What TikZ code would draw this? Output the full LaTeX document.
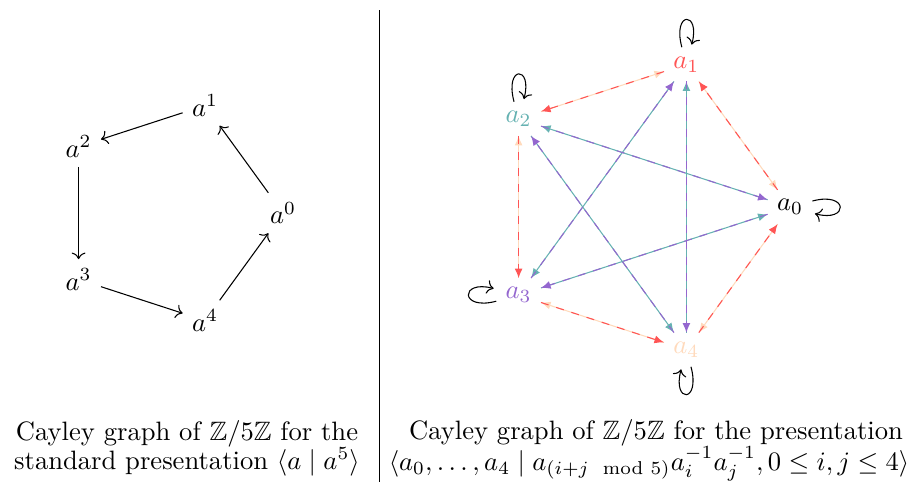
\documentclass[tikz,border=0pt]{standalone}
\usepackage{amsmath,amssymb}
\usetikzlibrary{arrows.meta}
\definecolor{cR}{RGB}{255,85,85}
\definecolor{cT}{RGB}{102,178,178}
\definecolor{cP}{RGB}{148,103,207}
\definecolor{cK}{RGB}{255,218,188}
\begin{document}
\begin{tikzpicture}[x=0.376pt,y=-0.376pt,
  solidedge/.style={-{Latex[length=3.6pt,width=3pt]}},
  dashededge/.style={dashed,-{Latex[length=3.6pt,width=3pt]}},
  loopedge/.style={->,black,min distance=5.5mm},
  captext/.style={anchor=base,inner sep=0pt}]
\useasboundingbox (0,0) rectangle (918,482);
% left graph
\node (L0) at (283,213) {$a^0$};
\node (L1) at (205,105.5) {$a^1$};
\node (L2) at (78.6,146.6) {$a^2$};
\node (L3) at (78.6,279.4) {$a^3$};
\node (L4) at (205,320.5) {$a^4$};
\draw[->] (L0) -- (L1);
\draw[->] (L1) -- (L2);
\draw[->] (L2) -- (L3);
\draw[->] (L3) -- (L4);
\draw[->] (L4) -- (L0);
% separator
\coordinate (sepT) at (379,10);
\coordinate (sepB) at (379,482);
\draw[line width=0.35pt] (sepT) -- (sepB);
% right graph
\node (R0) at (790,207) {$a_0$};
\node[text=cR] (R1) at (686.4,64.3) {$a_1$};
\node[text=cT] (R2) at (518.6,118.8) {$a_2$};
\node[text=cP] (R3) at (518.6,295.2) {$a_3$};
\node[text=cK] (R4) at (686.4,349.7) {$a_4$};
% solid: generator a4 (peach) and a2 (teal)
\draw[solidedge,cK] (R1) -- (R0);
\draw[solidedge,cK] (R2) -- (R1);
\draw[solidedge,cK] (R3) -- (R2);
\draw[solidedge,cK] (R4) -- (R3);
\draw[solidedge,cK] (R0) -- (R4);
\draw[solidedge,cT] (R0) -- (R2);
\draw[solidedge,cT] (R1) -- (R3);
\draw[solidedge,cT] (R2) -- (R4);
\draw[solidedge,cT] (R3) -- (R0);
\draw[solidedge,cT] (R4) -- (R1);
% dashed: generator a1 (red) and a3 (purple)
\draw[dashededge,cR] (R0) -- (R1);
\draw[dashededge,cR] (R1) -- (R2);
\draw[dashededge,cR] (R2) -- (R3);
\draw[dashededge,cR] (R3) -- (R4);
\draw[dashededge,cR] (R4) -- (R0);
\draw[dashededge,cP] (R2) -- (R0);
\draw[dashededge,cP] (R3) -- (R1);
\draw[dashededge,cP] (R4) -- (R2);
\draw[dashededge,cP] (R0) -- (R3);
\draw[dashededge,cP] (R1) -- (R4);
% loops (generator a0)
\path (R0) edge[loopedge,loop right] ();
\path (R1) edge[loopedge,loop above] ();
\path (R2) edge[loopedge,loop above] ();
\path (R3) edge[loopedge,loop left] ();
\path (R4) edge[loopedge,loop below] ();
% captions
\node[captext] (c1) at (187,440) {Cayley graph of $\mathbb{Z}/5\mathbb{Z}$ for the};
\node[captext] (c2) at (187,469) {standard presentation $\langle a \mid a^5\rangle$};
\node[captext] (c3) at (656,439) {Cayley graph of $\mathbb{Z}/5\mathbb{Z}$ for the presentation};
\node[captext] (c4) at (649,470) {$\langle a_0,\dots,a_4 \mid a_{(i+j \mod 5)}a_i^{-1}a_j^{-1}, 0\le i,j\le 4\rangle$};
\end{tikzpicture}
\end{document}
